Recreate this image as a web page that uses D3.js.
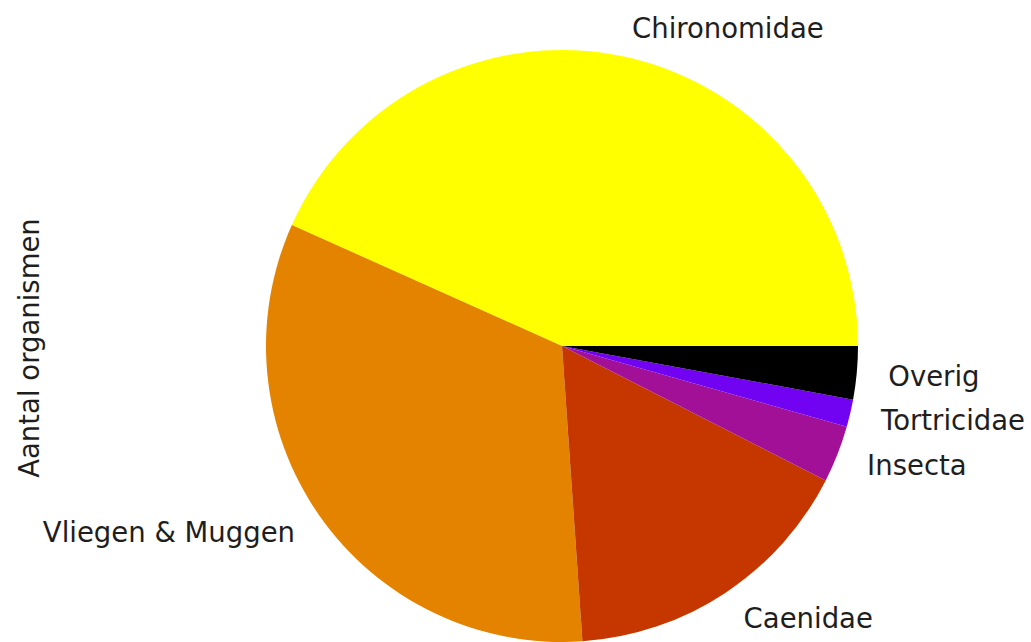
<!DOCTYPE html>
<html>
<head>
<meta charset="utf-8">
<script src="https://cdnjs.cloudflare.com/ajax/libs/d3/7.8.5/d3.min.js"></script>
<style>
  body { margin: 0; background: white; }
  text { font-family: "DejaVu Sans", sans-serif; fill: #1e1e1e; }
</style>
</head>
<body>
<div id="chart"></div>
<script>
// aandeel per groep (procent), tegen de klok in vanaf 3 uur
var groepen = ["Chironomidae", "Vliegen & Muggen", "Caenidae", "Insecta", "Tortricidae", "Overig"];
var aantallen = [43.3, 32.8, 16.4, 3.1, 1.5, 2.9];
var kleuren = ["#ffff00", "#e48300", "#c63700", "#a11096", "#7202f2", "#000000"];

var width = 1031;
var height = 642;
var cx = 562, cy = 346, radius = 296;
var fontSize = 27.5;

var svg = d3.select('#chart')
    .append('svg')
    .attr('width', width)
    .attr('height', height);

var g = svg.append('g')
    .attr('transform', 'translate(' + cx + ',' + cy + ')');

// matplotlib begint op 0 graden en draait tegen de klok in
var pie = d3.pie()
    .sort(null)
    .value((d) => d)
    .startAngle(Math.PI / 2)
    .endAngle(Math.PI / 2 - 2 * Math.PI);

var arc = d3.arc()
    .innerRadius(0)
    .outerRadius(radius);

var slices = pie(aantallen);
var mid = (d) => (d.startAngle + d.endAngle) / 2;

g.selectAll('path')
    .data(slices)
    .enter()
    .append('path')
    .attr('d', arc)
    .attr('fill', (d, i) => kleuren[i]);

g.selectAll('text.label')
    .data(slices)
    .enter()
    .append('text')
    .attr('class', 'label')
    .attr('x', (d) => 1.1 * radius * Math.sin(mid(d)) + (Math.sin(mid(d)) > 0 ? 2 : 0))
    .attr('y', (d) => -1.1 * radius * Math.cos(mid(d)))
    .attr('text-anchor', (d) => Math.sin(mid(d)) > 0 ? 'start' : 'end')
    .attr('dominant-baseline', 'central')
    .attr('font-size', fontSize)
    .text((d, i) => groepen[i]);

// y-as titel
svg.append('text')
    .attr('transform', 'translate(29,' + 348 + ') rotate(-90)')
    .attr('text-anchor', 'middle')
    .attr('dominant-baseline', 'central')
    .attr('font-size', fontSize)
    .text('Aantal organismen');
</script>
</body>
</html>
